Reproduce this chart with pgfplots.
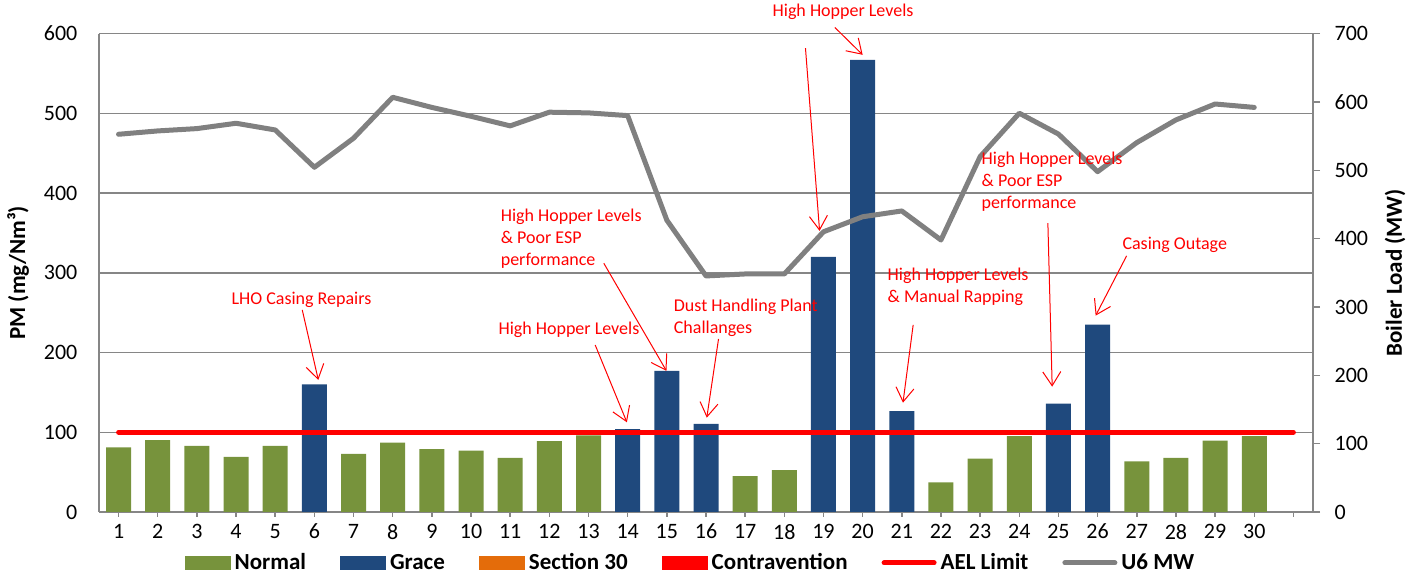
\documentclass[border=0pt]{standalone}
\usepackage{fontspec}
\setmainfont{Carlito}
\usepackage{pgfplots}
\pgfplotsset{compat=1.18}
\usetikzlibrary{arrows.meta}

\definecolor{normalgreen}{HTML}{77933C}
\definecolor{graceblue}{HTML}{1F497D}
\definecolor{sec30}{HTML}{E46C0A}
\definecolor{contra}{HTML}{FF0000}
\definecolor{mwgray}{HTML}{808080}
\definecolor{axgray}{HTML}{868686}

\pgfplotsset{
  barleg/.style={legend image code/.code={\fill[##1] (0pt,-3.35pt) rectangle (23pt,3.35pt);}},
  lineleg/.style={legend image code/.code={\draw[##1] (0pt,0pt) -- (25pt,0pt);}},
}

\begin{document}
\begin{tikzpicture}
\path[use as bounding box] (-49.5pt,-32.5pt) rectangle (662.5pt,256pt);

% left axis: PM bars and AEL limit
\begin{axis}[
    at={(0,0)}, anchor=south west,
    width=607pt, height=239.2pt, scale only axis,
    xmin=0.5, xmax=31.5, ymin=0, ymax=600,
    axis x line*=bottom, axis y line*=left,
    axis line style={axgray, line width=0.75pt, -},
    ytick={0,100,...,600},
    xtick={1,...,31},
    xticklabels={1,2,3,4,5,6,7,8,9,10,11,12,13,14,15,16,17,18,19,20,21,22,23,24,25,26,27,28,29,30,{}},
    tick align=outside,
    major tick length=2.5pt,
    x tick style={axgray, line width=0.75pt},
    y tick style={draw=none},
    ymajorgrids,
    major grid style={axgray, line width=0.75pt},
    tick label style={font=\fontsize{11}{13}\selectfont, black},
    yticklabel style={xshift=-4.8pt},
    /pgf/number format/assume math mode=true,
    ylabel={PM (mg/Nm³)},
    ylabel style={at={(axis description cs:-0.0667,0.5)}, anchor=center, rotate=0, font=\bfseries\fontsize{11.5}{13}\selectfont},
    clip=false,
    legend columns=-1,
    legend style={draw=none, fill=none, at={(0.488,-0.1066)}, anchor=center,
        font=\bfseries\fontsize{11.5}{13}\selectfont,
        /tikz/every even column/.append style={column sep=15pt}},
]

\addplot[ybar, bar width=12.5pt, bar shift=0pt, fill=normalgreen, draw=none, barleg] coordinates {
    (1,81) (2,90) (3,83) (4,69) (5,83) (7,73) (8,87) (9,79) (10,77)
    (11,68) (12,89) (13,96) (17,45) (18,52.5) (22,37) (23,67) (24,95)
    (27,63.5) (28,68) (29,89.5) (30,95)
};
\addlegendentry{Normal}

\addplot[ybar, bar width=12.5pt, bar shift=0pt, fill=graceblue, draw=none, barleg] coordinates {
    (6,160) (14,104) (15,177) (16,110.5) (19,320) (20,567) (21,126.5)
    (25,136) (26,235)
};
\addlegendentry{Grace}

\addlegendimage{barleg, fill=sec30, draw=none}
\addlegendentry{Section 30}
\addlegendimage{barleg, fill=contra, draw=none}
\addlegendentry{Contravention}

\addplot[contra, line width=2.5pt, line cap=round, lineleg] coordinates {
    (1,100) (31,100)
};
\addlegendentry{AEL Limit}

\addlegendimage{lineleg, mwgray, line width=2.5pt, line cap=round}
\addlegendentry{U6 MW}

% annotation anchors
\coordinate (t1) at (axis cs:5.67,266);
\coordinate (a1s) at (axis cs:5.69,253.5);  \coordinate (a1e) at (axis cs:6.10,165.6);
\coordinate (t2) at (axis cs:12.50,228);
\coordinate (a2s) at (axis cs:13.17,209.5); \coordinate (a2e) at (axis cs:13.98,112.5);
\coordinate (t3) at (axis cs:10.75,342.5);
\coordinate (a3s) at (axis cs:13.39,312);   \coordinate (a3e) at (axis cs:14.99,177);
\coordinate (t4) at (axis cs:15.17,243.4);
\coordinate (a4s) at (axis cs:16.32,217);   \coordinate (a4e) at (axis cs:16.02,118.3);
\coordinate (t5) at (axis cs:19.50,627);
\coordinate (a5s) at (axis cs:19.29,607.7); \coordinate (a5e) at (axis cs:20.00,573.4);
\coordinate (a6s) at (axis cs:18.54,581.8); \coordinate (a6e) at (axis cs:18.90,352.6);
\coordinate (t7) at (axis cs:20.63,283);
\coordinate (a7s) at (axis cs:21.29,234.6); \coordinate (a7e) at (axis cs:21.03,137.1);
\coordinate (t8) at (axis cs:23.03,413.7);
\coordinate (a8s) at (axis cs:24.73,362.2); \coordinate (a8e) at (axis cs:24.84,157.2);
\coordinate (t9) at (axis cs:27.97,335);
\coordinate (a9s) at (axis cs:26.74,321.2); \coordinate (a9e) at (axis cs:25.95,246.3);
\end{axis}

% right axis: boiler load
\begin{axis}[
    at={(0,0)}, anchor=south west,
    width=607pt, height=239.2pt, scale only axis,
    xmin=0.5, xmax=31.5, ymin=0, ymax=700,
    axis x line=none, axis y line*=right,
    axis line style={axgray, line width=0.75pt, -},
    ytick={0,100,...,700},
    tick align=outside,
    major tick length=3.5pt,
    y tick style={axgray, line width=0.75pt},
    tick label style={font=\fontsize{11}{13}\selectfont, black},
    yticklabel style={xshift=3.8pt},
    /pgf/number format/assume math mode=true,
    ylabel={Boiler Load (MW)},
    ylabel style={at={(axis description cs:1.0675,0.5)}, anchor=center, rotate=0, font=\bfseries\fontsize{11.5}{13}\selectfont},
]
\addplot[mwgray, line width=2.5pt, line join=round, line cap=round] coordinates {
    (1,552.7) (2,557.6) (3,561) (4,568.8) (5,559) (6,504.4) (7,546.9)
    (8,606.8) (9,592) (10,579) (11,565) (12,585) (13,584) (14,580)
    (15,427) (16,345.4) (17,348.3) (18,348.3) (19,410) (20,432)
    (21,440.5) (22,398) (23,520) (24,583.5) (25,553) (26,498)
    (27,540.5) (28,573.7) (29,597) (30,592)
};
\end{axis}

% annotations
\begin{scope}[every node/.style={text=red, font=\fontsize{9}{11}\selectfont, inner sep=0pt, align=left},
    ann/.style={draw=red, line width=0.5pt, -{Straight Barb[length=7pt,width=9pt]}}]
\node[anchor=center] at (t1) {LHO Casing Repairs};
\draw[ann] (a1s) -- (a1e);
\node[anchor=center] at (t2) {High Hopper Levels};
\draw[ann] (a2s) -- (a2e);
\node[anchor=west] at (t3) {High Hopper Levels\\\& Poor ESP\\performance};
\draw[ann] (a3s) -- (a3e);
\node[anchor=west] at (t4) {Dust Handling Plant\\Challanges};
\draw[ann] (a4s) -- (a4e);
\node[anchor=center] at (t5) {High Hopper Levels};
\draw[ann] (a5s) -- (a5e);
\draw[ann] (a6s) -- (a6e);
\node[anchor=west] at (t7) {High Hopper Levels\\\& Manual Rapping};
\draw[ann] (a7s) -- (a7e);
\node[anchor=west] at (t8) {High Hopper Levels\\\& Poor ESP\\performance};
\draw[ann] (a8s) -- (a8e);
\node[anchor=center] at (t9) {Casing Outage};
\draw[ann] (a9s) -- (a9e);
\end{scope}
\end{tikzpicture}
\end{document}
